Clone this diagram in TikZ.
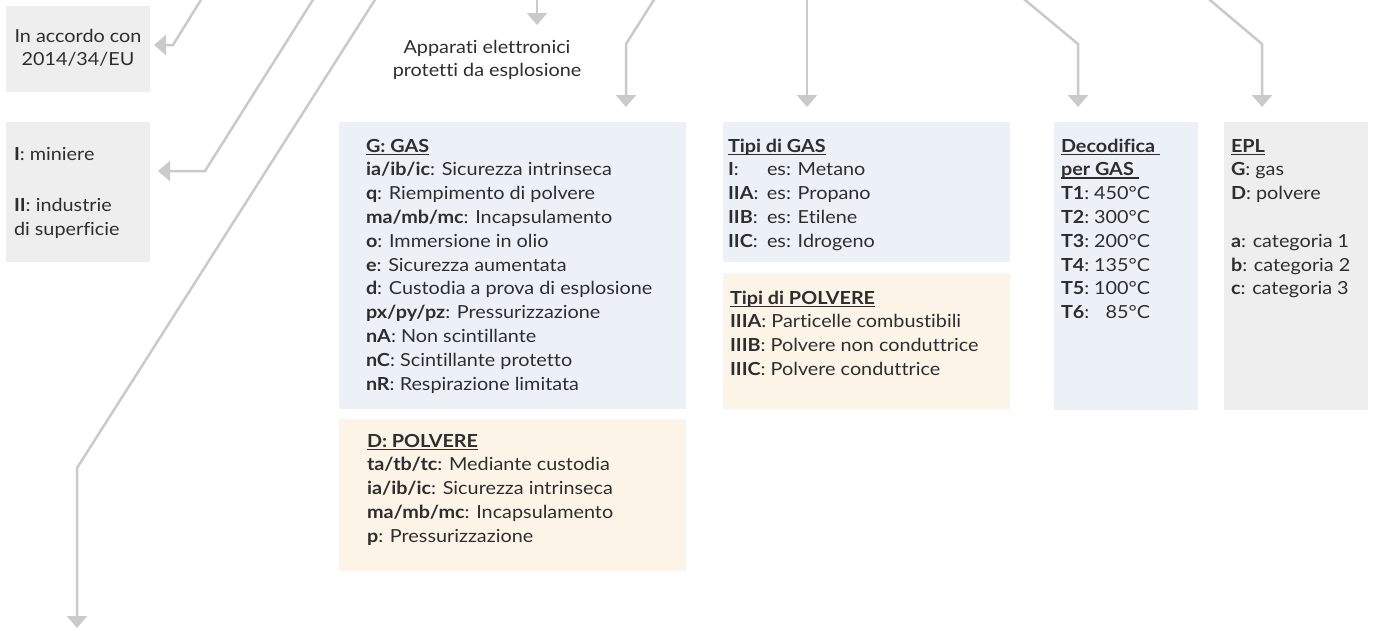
\documentclass[tikz,border=0pt]{standalone}
\usepackage{fontspec}
\setmainfont{Lato}[FakeStretch=1.1,Ligatures=NoCommon]
\usetikzlibrary{arrows.meta}
\definecolor{boxgray}{HTML}{EEEEEE}
\definecolor{boxblue}{HTML}{ECF1F8}
\definecolor{boxcream}{HTML}{FDF4E8}
\definecolor{arrgray}{HTML}{CACACA}
\definecolor{txtcol}{HTML}{2E2E2E}
\newcommand\hdul[1]{\setbox0=\hbox{#1}\rlap{\rule[-2.7pt]{\wd0}{1.2pt}}\box0}
\newcommand\lbl[2]{\makebox[#1][l]{#2}}
\begin{document}
\begin{tikzpicture}[x=1pt,y=-1pt,
  panel/.style={anchor=north west, inner sep=0pt, outer sep=0pt, draw=none},
  txt/.style={anchor=base west, inner sep=0pt, outer sep=0pt, text=txtcol, font=\fontsize{18}{23.8}\selectfont},
  ctxt/.style={txt, anchor=base},
  conn/.style={draw=arrgray, line width=2.5pt, -{Triangle[length=12pt,width=20pt]}}]
\useasboundingbox (0,0) rectangle (1375,630);
\fill[white] (0,0) rectangle (1375,630);
% panels
\node[panel, fill=boxgray, minimum width=144pt, minimum height=86pt] (boxA) at (6,6) {};
\node[panel, fill=boxgray, minimum width=144pt, minimum height=140pt] (boxB) at (6,122) {};
\node[panel, fill=boxblue, minimum width=347pt, minimum height=287pt] (boxG) at (339,122) {};
\node[panel, fill=boxcream, minimum width=347pt, minimum height=152pt] (boxD) at (339,419) {};
\node[panel, fill=boxblue, minimum width=287pt, minimum height=140pt] (boxTG) at (723,122) {};
\node[panel, fill=boxcream, minimum width=287pt, minimum height=136pt] (boxTP) at (723,273) {};
\node[panel, fill=boxblue, minimum width=144pt, minimum height=288pt] (boxT) at (1054,122) {};
\node[panel, fill=boxgray, minimum width=144pt, minimum height=288pt] (boxE) at (1224,122) {};
% texts
\node[ctxt] (tA) at (78,42) {\vtop{\hbox to 144pt{\hfil In accordo con\hfil}\hbox to 144pt{\hfil 2014/34/EU\hfil}}};
\node[txt] (tB) at (14,160) {\vtop{\hbox{\textbf{I}: miniere}\vskip 28pt\hbox{\textbf{II}: industrie}\hbox{di superficie}}};
\node[ctxt] (tApp) at (487,53) {\vtop{\hbox to 260pt{\hfil Apparati elettronici\hfil}\hbox to 260pt{\hfil protetti da esplosione\hfil}}};
\node[txt] (tG) at (366,152) {\vtop{%
  \hbox{\textbf{\hdul{G: GAS}}}%
  \hbox{\textbf{ia/ib/ic}: Sicurezza intrinseca}%
  \hbox{\textbf{q}: Riempimento di polvere}%
  \hbox{\textbf{ma/mb/mc}: Incapsulamento}%
  \hbox{\textbf{o}: Immersione in olio}%
  \hbox{\textbf{e}: Sicurezza aumentata}%
  \hbox{\textbf{d}: Custodia a prova di esplosione}%
  \hbox{\textbf{px/py/pz}: Pressurizzazione}%
  \hbox{\textbf{nA}: Non scintillante}%
  \hbox{\textbf{nC}: Scintillante protetto}%
  \hbox{\textbf{nR}: Respirazione limitata}}};
\node[txt] (tD) at (367,447) {\vtop{%
  \hbox{\textbf{\hdul{D: POLVERE}}}%
  \hbox{\textbf{ta/tb/tc}: Mediante custodia}%
  \hbox{\textbf{ia/ib/ic}: Sicurezza intrinseca}%
  \hbox{\textbf{ma/mb/mc}: Incapsulamento}%
  \hbox{\textbf{p}: Pressurizzazione}}};
\node[txt] (tTG) at (728,152) {\vtop{%
  \hbox{\textbf{\hdul{Tipi di GAS}}}%
  \hbox{\lbl{39pt}{\textbf{I}:}es: Metano}%
  \hbox{\lbl{39pt}{\textbf{IIA}:}es: Propano}%
  \hbox{\lbl{39pt}{\textbf{IIB}:}es: Etilene}%
  \hbox{\lbl{39pt}{\textbf{IIC}:}es: Idrogeno}}};
\node[txt] (tTP) at (730,304) {\vtop{%
  \hbox{\textbf{\hdul{Tipi di POLVERE}}}%
  \hbox{\textbf{IIIA}: Particelle combustibili}%
  \hbox{\textbf{IIIB}: Polvere non conduttrice}%
  \hbox{\textbf{IIIC}: Polvere conduttrice}}};
\node[txt] (tT) at (1061,152) {\vtop{%
  \hbox{\textbf{\hdul{Decodifica\ }}}%
  \hbox{\textbf{\hdul{per GAS\ }}}%
  \hbox{\lbl{30pt}{\textbf{T1}:}\makebox[59pt][r]{450°C}}%
  \hbox{\lbl{30pt}{\textbf{T2}:}\makebox[59pt][r]{300°C}}%
  \hbox{\lbl{30pt}{\textbf{T3}:}\makebox[59pt][r]{200°C}}%
  \hbox{\lbl{30pt}{\textbf{T4}:}\makebox[59pt][r]{135°C}}%
  \hbox{\lbl{30pt}{\textbf{T5}:}\makebox[59pt][r]{100°C}}%
  \hbox{\lbl{30pt}{\textbf{T6}:}\makebox[59pt][r]{85°C}}}};
\node[txt] (tE) at (1231,152) {\vtop{%
  \hbox{\textbf{\hdul{EPL}}}%
  \hbox{\textbf{G}: gas}%
  \hbox{\textbf{D}: polvere}%
  \hbox{}%
  \hbox{\textbf{a}: categoria 1}%
  \hbox{\textbf{b}: categoria 2}%
  \hbox{\textbf{c}: categoria 3}}};
% connector coordinates
\coordinate (s1) at (204,-5); \coordinate (b1) at (173,45); \coordinate (e1) at (154,45);
\coordinate (s2) at (316,-5); \coordinate (b2) at (205,171); \coordinate (e2) at (158,171);
\coordinate (s3) at (378,-5); \coordinate (b3) at (77,468); \coordinate (e3) at (77,628);
\coordinate (s4) at (537,-5); \coordinate (e4) at (537,25);
\coordinate (s5) at (657,-5); \coordinate (b5) at (626,44); \coordinate (e5) at (626,107);
\coordinate (s6) at (807,-5); \coordinate (e6) at (807,107);
\coordinate (s7) at (1019,-5); \coordinate (b7) at (1078,44); \coordinate (e7) at (1078,107);
\coordinate (s8) at (1204,-5); \coordinate (b8) at (1262,44); \coordinate (e8) at (1262,107);
\draw[conn] (s1) -- (b1) -- (e1);
\draw[conn] (s2) -- (b2) -- (e2);
\draw[conn] (s3) -- (b3) -- (e3);
\draw[conn] (s4) -- (e4);
\draw[conn] (s5) -- (b5) -- (e5);
\draw[conn] (s6) -- (e6);
\draw[conn] (s7) -- (b7) -- (e7);
\draw[conn] (s8) -- (b8) -- (e8);
\end{tikzpicture}
\end{document}
